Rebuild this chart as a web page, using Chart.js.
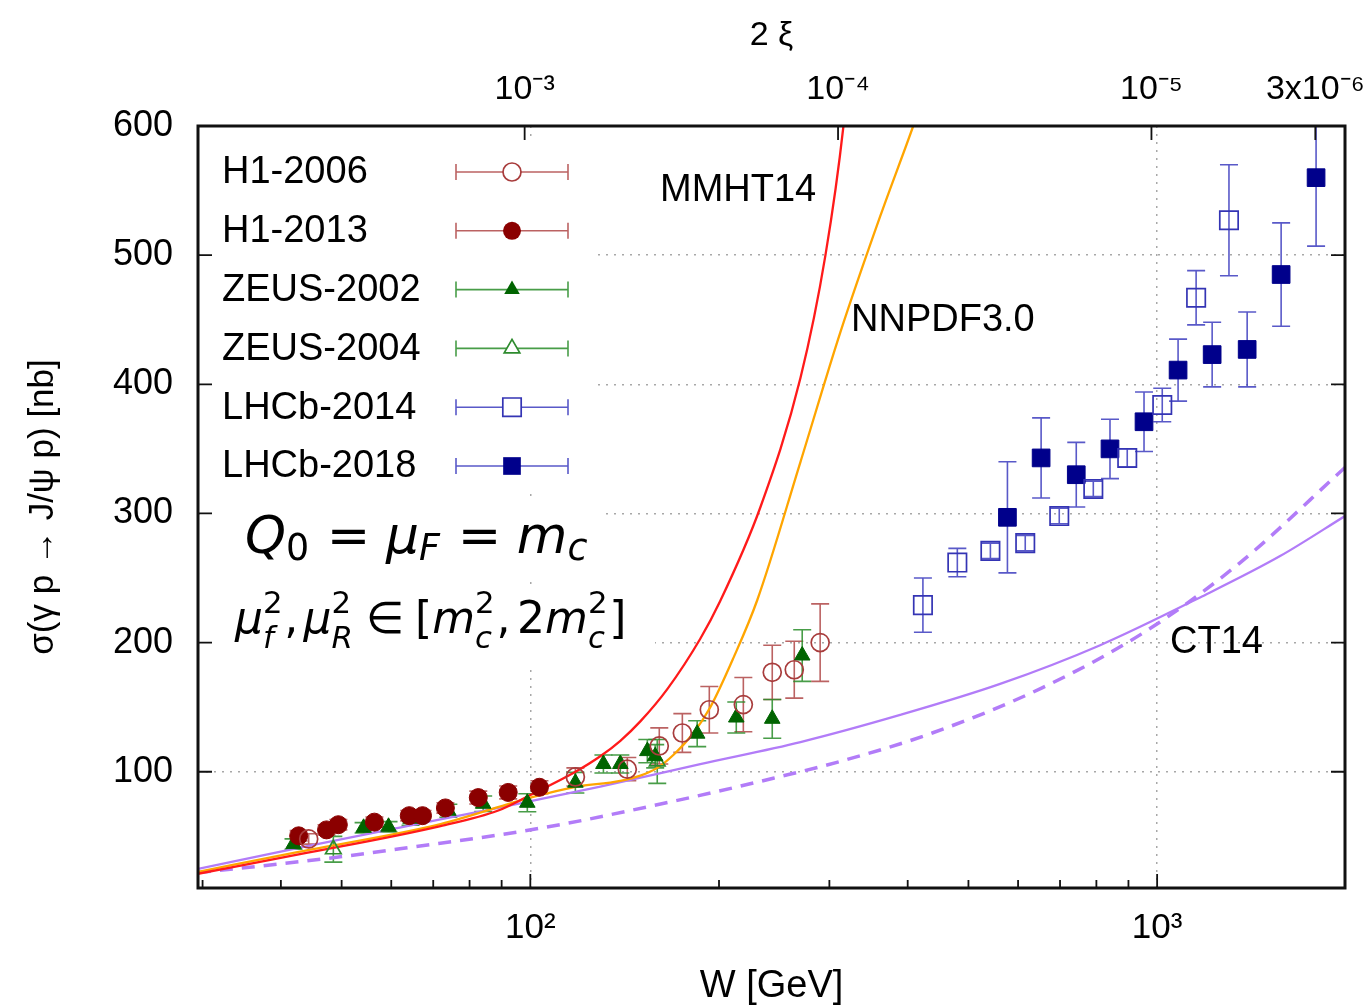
<!DOCTYPE html>
<html>
<head>
<meta charset="utf-8">
<script src="https://cdn.jsdelivr.net/npm/chart.js@4.4.0/dist/chart.umd.min.js"></script>
<style>
html, body { margin: 0; padding: 0; background: #fff; }
#wrap { width: 1372px; height: 1006px; }
</style>
</head>
<body>
<div id="wrap"><canvas id="myChart" width="1372" height="1006"></canvas></div>
<script>
// sigma(gamma p -> J/psi p) vs W
const mJpsi = 3.097;
const wMin = 29.5, wMax = 1994;

// H1-2006 (open circles)
const wH1_2006 = [44.3, 118, 142.8, 160.6, 174.8, 193, 218.7, 243.2, 263.7, 290];
const sH1_2006 = [48, 96, 102, 120, 130, 148, 152, 177, 179, 200];
const eH1_2006 = [4, 7, 9, 14, 15, 18, 21, 21, 22, 30];
// H1-2013 (filled circles)
const wH1_2013 = [42.7, 47.3, 49.4, 56.4, 64.1, 67.3, 73.2, 82.6, 92.2, 103.4];
const sH1_2013 = [50.4, 55, 59, 61, 66, 66, 72, 80, 84, 88];
const eH1_2013 = [4, 4, 4, 4, 4, 4, 4, 5, 5, 5];
// ZEUS-2002 (filled triangles)
const wZEUS_2002 = [41.9, 54.2, 59.4, 64.4, 74.0, 84.1, 98.9, 118, 130.8, 139.2, 153.7, 158.2, 184.6, 213.1, 243.2, 271.5];
const sZEUS_2002 = [44, 56.6, 57.4, 63.6, 69.8, 75.2, 76, 91.5, 106, 106, 116, 112, 129.5, 142, 141, 190];
const eZEUS_2002 = [4, 4, 4, 5, 5, 6, 7, 8, 7, 7, 9, 9, 10, 12, 15, 20];
// ZEUS-2004 (open triangles)
const wZEUS_2004 = [48.5, 159.4];
const sZEUS_2004 = [40, 108];
const eZEUS_2004 = [10, 17];
// LHCb-2014 (open squares)
const wLHCb_2014 = [423, 480, 542, 616, 698, 791, 896, 1019, 1154, 1302];
const sLHCb_2014 = [229, 262, 271, 277, 298, 319, 343, 384, 467, 527];
const eLHCb_2014 = [21, 11, 6, 6, 6, 6, 7, 13, 21, 43];
// LHCb-2018 (filled squares)
const wLHCb_2018 = [577, 653, 743, 841, 953, 1080, 1224, 1392, 1577, 1793];
const sLHCb_2018 = [297, 343, 330, 350, 371, 411, 423, 427, 485, 560];
const eLHCb_2018 = [43, 31, 25, 23, 23, 24, 25, 29, 40, 53];

// theory curves
const wMMHT = [29.5, 42.7, 71.9, 88.9, 100, 117.1, 129.3, 139.2, 149.8, 165.4, 186.7, 200.8, 232.9, 269.8, 295.7, 315.9, 330];
const sMMHT = [21, 36, 58, 70, 82, 99, 112, 124, 139, 164, 203, 232, 305, 405, 500, 600, 700];
const wNNPDF = [29.5, 42.7, 71.9, 100, 117.1, 139.2, 149.8, 159.4, 169.1, 182, 193.7, 210.8, 230.2, 269.8, 312.2, 361.5, 408.2, 450];
const sNNPDF = [22.5, 38, 59.5, 80, 88, 93, 97, 103, 113, 130, 150, 188, 233, 340, 440, 530, 600, 660];
const wCT14 = [29.5, 42.7, 61.6, 88.9, 129.3, 186.7, 269.8, 389.1, 561.7, 811.2, 1171, 1571, 1994];
const sCT14 = [24.8, 41, 56.6, 72, 88.5, 106, 123, 144, 168, 198, 235, 267, 298];
const wCT14b = [29.5, 39.6, 51.3, 65.5, 88.9, 112.9, 144.4, 195.8, 244.1, 312.2, 437.7, 655.4, 953.5, 1357, 1994];
const sCT14b = [22, 28.5, 35, 42, 51, 59.5, 70, 84, 95, 108, 130, 165, 208, 262, 335.6];

// axes
const yTicks = [100, 200, 300, 400, 500, 600];
const xMajor = [100, 1000];
const xMajorLabels = ['10²', '10³'];
const xMinor = [30, 40, 50, 60, 70, 80, 90, 200, 300, 400, 500, 600, 700, 800, 900];
const xiTicks = [1e-3, 1e-4, 1e-5, 3e-6];
const xiLabels = ['10⁻³', '10⁻⁴', '10⁻⁵', '3x10⁻⁶'];

const FONT = '"Liberation Sans", Arial, sans-serif';
Chart.defaults.font.family = FONT;
Chart.defaults.color = '#000';

function pts(ws, ss) { return ws.map((w, i) => ({x: w, y: ss[i]})); }

function pointSet(label, ws, ss, es, style, r, col, filled, errCol) {
    return {
        type: 'scatter', label: label, data: pts(ws, ss), errors: es, errColor: errCol,
        pointStyle: style, pointRadius: r, pointHoverRadius: r,
        borderColor: col, backgroundColor: filled ? col : 'rgba(0,0,0,0)',
        borderWidth: filled ? 1 : 1.7, filled: filled
    };
}
function curve(label, ws, ss, col, width, dash) {
    return {
        type: 'line', label: label, data: pts(ws, ss), borderColor: col, borderWidth: width,
        borderDash: dash || [], pointRadius: 0, fill: false, cubicInterpolationMode: 'monotone'
    };
}

const errRed = 'rgba(175,70,70,0.85)', errGreen = 'rgba(40,140,40,0.85)', errBlue = 'rgba(60,60,190,0.85)';

// error bars, drawn under the markers
const errorBars = {
    id: 'errorBars',
    beforeDatasetsDraw(chart) {
        const {ctx, chartArea: a, scales: {x, y}} = chart;
        ctx.save();
        ctx.beginPath();
        ctx.rect(a.left, a.top, a.right - a.left, a.bottom - a.top);
        ctx.clip();
        chart.data.datasets.forEach(ds => {
            if (!ds.errors) return;
            ctx.strokeStyle = ds.errColor;
            ctx.lineWidth = 1.6;
            ds.data.forEach((p, j) => {
                const px = x.getPixelForValue(p.x);
                const lo = y.getPixelForValue(p.y - ds.errors[j]);
                const hi = y.getPixelForValue(p.y + ds.errors[j]);
                ctx.beginPath();
                ctx.moveTo(px, lo); ctx.lineTo(px, hi);
                ctx.moveTo(px - 9, lo); ctx.lineTo(px + 9, lo);
                ctx.moveTo(px - 9, hi); ctx.lineTo(px + 9, hi);
                ctx.stroke();
            });
        });
        ctx.restore();
    }
};

function marker(ctx, ds, cx, cy) {
    const r = ds.pointRadius;
    ctx.beginPath();
    if (ds.pointStyle === 'circle') {
        ctx.arc(cx, cy, r, 0, Math.PI * 2);
    } else if (ds.pointStyle === 'triangle') {
        ctx.moveTo(cx, cy - r);
        ctx.lineTo(cx + r * 0.866, cy + r / 2);
        ctx.lineTo(cx - r * 0.866, cy + r / 2);
        ctx.closePath();
    } else {
        const s = r * Math.SQRT1_2;
        ctx.rect(cx - s, cy - s, 2 * s, 2 * s);
    }
    if (ds.filled) { ctx.fillStyle = ds.borderColor; ctx.fill(); }
    else { ctx.fillStyle = '#fff'; ctx.fill(); ctx.lineWidth = ds.borderWidth; ctx.strokeStyle = ds.borderColor; ctx.stroke(); }
}

// legend box with error-bar symbols, inside the plot
const legendBox = {
    id: 'legendBox',
    afterDatasetsDraw(chart) {
        const {ctx, chartArea: a} = chart;
        ctx.save();
        ctx.fillStyle = '#fff';
        ctx.fillRect(a.left + 2, a.top + 14, 392, 352);
        ctx.fillRect(a.left + 2, 498, 402, 78);
        ctx.fillRect(a.left + 2, 584, 455, 80);
        ctx.font = '38px ' + FONT;
        ctx.textBaseline = 'middle';
        ctx.textAlign = 'left';
        chart.data.datasets.filter(ds => ds.errors).forEach((ds, i) => {
            const ry = 172 + i * 58.8;
            ctx.fillStyle = '#000';
            ctx.fillText(ds.label, 222, ry + 1);
            ctx.strokeStyle = ds.errColor;
            ctx.lineWidth = 1.6;
            ctx.beginPath();
            ctx.moveTo(456, ry); ctx.lineTo(568, ry);
            ctx.moveTo(456, ry - 8); ctx.lineTo(456, ry + 8);
            ctx.moveTo(568, ry - 8); ctx.lineTo(568, ry + 8);
            ctx.stroke();
            marker(ctx, ds, 512, ry);
        });
        ctx.restore();
    }
};

function mathLine(ctx, x, base, fs, subDrop, supRise, parts) {
    let cx = x;
    const mf = '"DejaVu Sans", sans-serif';
    for (const p of parts) {
        if (p.gap) { cx += p.gap * fs; continue; }
        if (p.sub !== undefined || p.sup !== undefined) {
            const sfs = fs * 0.7;
            let w = 0;
            if (p.sub !== undefined) {
                ctx.font = (p.subN ? '' : 'italic ') + sfs + 'px ' + mf;
                ctx.fillText(p.sub, cx, base + subDrop * fs);
                w = Math.max(w, ctx.measureText(p.sub).width);
            }
            if (p.sup !== undefined) {
                ctx.font = sfs + 'px ' + mf;
                ctx.fillText(p.sup, cx, base - supRise * fs);
                w = Math.max(w, ctx.measureText(p.sup).width);
            }
            cx += w + fs * 0.04;
            continue;
        }
        ctx.font = (p.i ? 'italic ' : '') + fs + 'px ' + mf;
        ctx.fillText(p.t, cx, base);
        cx += ctx.measureText(p.t).width;
    }
}

// curve names and the scale-choice formula
const labels = {
    id: 'labels',
    afterDatasetsDraw(chart) {
        const {ctx} = chart;
        ctx.save();
        ctx.fillStyle = '#000';
        ctx.textBaseline = 'middle';
        ctx.textAlign = 'left';
        ctx.font = '38px ' + FONT;
        ctx.fillText('MMHT14', 660, 191);
        ctx.fillText('NNPDF3.0', 851, 321);
        ctx.fillText('CT14', 1170, 643);
        ctx.textBaseline = 'alphabetic';
        mathLine(ctx, 245, 553, 52, 0.14, 0.45, [
            {t: 'Q', i: true}, {sub: '0', subN: true}, {gap: 0.3}, {t: '='}, {gap: 0.3},
            {t: 'μ', i: true}, {sub: 'F'}, {gap: 0.3}, {t: '='}, {gap: 0.3},
            {t: 'm', i: true}, {sub: 'c'}
        ]);
        mathLine(ctx, 235, 633, 44, 0.33, 0.45, [
            {t: 'μ', i: true}, {sub: 'f', sup: '2'}, {t: ','}, {gap: 0.12},
            {t: 'μ', i: true}, {sub: 'R', sup: '2'}, {gap: 0.25}, {t: '∈'}, {gap: 0.25},
            {t: '['}, {t: 'm', i: true}, {sub: 'c', sup: '2'}, {t: ','}, {gap: 0.15},
            {t: '2'}, {t: 'm', i: true}, {sub: 'c', sup: '2'}, {t: ']'}
        ]);
        ctx.restore();
    }
};

// frame and inward tick marks
const frame = {
    id: 'frame',
    afterDraw(chart) {
        const {ctx, chartArea: a, scales: {x, x2, y}} = chart;
        ctx.save();
        ctx.strokeStyle = '#111';
        ctx.lineWidth = 1.8;
        ctx.beginPath();
        yTicks.forEach(v => {
            if (v >= 600) return;
            const py = y.getPixelForValue(v);
            ctx.moveTo(a.left, py); ctx.lineTo(a.left + 14, py);
            ctx.moveTo(a.right, py); ctx.lineTo(a.right - 14, py);
        });
        xMajor.forEach(v => {
            const px = x.getPixelForValue(v);
            ctx.moveTo(px, a.bottom); ctx.lineTo(px, a.bottom - 14);
        });
        xMinor.forEach(v => {
            const px = x.getPixelForValue(v);
            ctx.moveTo(px, a.bottom); ctx.lineTo(px, a.bottom - 8);
        });
        xiTicks.forEach(v => {
            const px = x2.getPixelForValue(mJpsi / Math.sqrt(v));
            ctx.moveTo(px, a.top); ctx.lineTo(px, a.top + 14);
        });
        ctx.stroke();
        ctx.lineWidth = 3;
        ctx.strokeRect(a.left, a.top, a.right - a.left, a.bottom - a.top);
        ctx.restore();
    }
};

const chartEl = document.getElementById('myChart').getContext('2d');
let sigmaChart = new Chart(chartEl, {
    type: 'scatter',
    data: {
        datasets: [
            pointSet('H1-2006', wH1_2006, sH1_2006, eH1_2006, 'circle', 9, '#a83c3c', false, errRed),
            pointSet('H1-2013', wH1_2013, sH1_2013, eH1_2013, 'circle', 9, '#8b0000', true, errRed),
            pointSet('ZEUS-2002', wZEUS_2002, sZEUS_2002, eZEUS_2002, 'triangle', 9, '#006400', true, errGreen),
            pointSet('ZEUS-2004', wZEUS_2004, sZEUS_2004, eZEUS_2004, 'triangle', 9, '#2e8b2e', false, errGreen),
            pointSet('LHCb-2014', wLHCb_2014, sLHCb_2014, eLHCb_2014, 'rect', 13, '#3434b4', false, errBlue),
            pointSet('LHCb-2018', wLHCb_2018, sLHCb_2018, eLHCb_2018, 'rect', 12.5, '#00008b', true, errBlue),
            curve('MMHT14', wMMHT, sMMHT, '#ff1a1a', 2.3),
            curve('NNPDF3.0', wNNPDF, sNNPDF, '#ffa500', 2.3),
            curve('CT14', wCT14, sCT14, '#b27cf8', 2.3),
            curve('CT14 (scale var.)', wCT14b, sCT14b, '#b27cf8', 3.5, [13, 9])
        ]
    },
    options: {
        responsive: false,
        animation: false,
        events: [],
        layout: { padding: { left: 0, top: 0, right: 27, bottom: 0 } },
        plugins: { legend: { display: false }, tooltip: { enabled: false } },
        scales: {
            x: {
                type: 'logarithmic', position: 'bottom', min: wMin, max: wMax,
                afterBuildTicks: s => { s.ticks = xMinor.concat(xMajor).sort((p, q) => p - q).map(v => ({value: v})); },
                afterFit: s => { s.height = 118; s.paddingLeft = 0; s.paddingRight = 0; },
                ticks: {
                    autoSkip: false, maxRotation: 0, minRotation: 0, padding: 19,
                    font: { size: 35 }, color: '#000',
                    callback: v => { const k = xMajor.indexOf(v); return k >= 0 ? xMajorLabels[k] : ''; }
                },
                grid: {
                    drawTicks: false, lineWidth: 1.5,
                    color: c => (c.tick && xMajor.includes(c.tick.value)) ? '#a8a8a8' : 'rgba(0,0,0,0)'
                },
                border: { display: false, dash: [2, 6] },
                title: { display: true, text: 'W [GeV]', font: { size: 38, lineHeight: 1 }, padding: { top: 0, bottom: 0 }, color: '#000' }
            },
            x2: {
                type: 'logarithmic', position: 'top', min: wMin, max: wMax,
                afterBuildTicks: s => { s.ticks = xiTicks.map(v => ({value: mJpsi / Math.sqrt(v)})); },
                afterFit: s => { s.height = 126; s.paddingLeft = 0; s.paddingRight = 0; },
                ticks: {
                    autoSkip: false, maxRotation: 0, minRotation: 0, padding: 16,
                    font: { size: 34 }, color: '#000',
                    callback: (v, i) => xiLabels[i]
                },
                grid: { display: false, drawTicks: false },
                border: { display: false },
                title: { display: true, text: '2 ξ', font: { size: 34 }, padding: { top: 15, bottom: 0 }, color: '#000' }
            },
            y: {
                type: 'linear', position: 'left', min: 10, max: 600,
                afterBuildTicks: s => { s.ticks = yTicks.map(v => ({value: v})); },
                afterFit: s => { s.width = 198; s.paddingTop = 0; s.paddingBottom = 0; },
                ticks: { padding: 25, font: { size: 36 }, color: '#000' },
                grid: {
                    drawTicks: false, lineWidth: 1.5,
                    color: c => (c.tick && c.tick.value < 600) ? '#a8a8a8' : 'rgba(0,0,0,0)'
                },
                border: { display: false, dash: [2, 6] },
                title: { display: true, text: 'σ(γ p → J/ψ p) [nb]', font: { size: 35 }, padding: { top: 22, bottom: 0 }, color: '#000' }
            }
        }
    },
    plugins: [errorBars, legendBox, labels, frame]
});
</script>
</body>
</html>
